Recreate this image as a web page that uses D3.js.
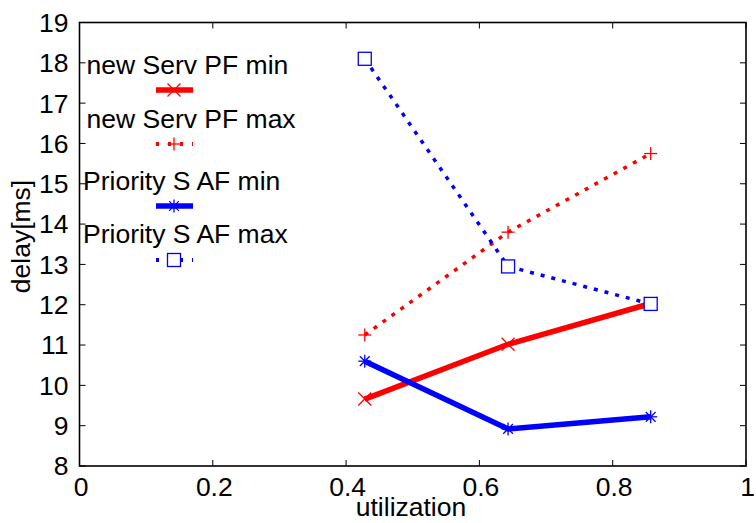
<!DOCTYPE html>
<html>
<head>
<meta charset="utf-8">
<title>delay vs utilization</title>
<script src="https://d3js.org/d3.v7.min.js"></script>
<style>
  body { margin: 0; background: #fff; }
  text { font-family: "Liberation Sans", Arial, sans-serif; fill: #000; }
</style>
</head>
<body>
<div id="chart"></div>
<script>
// data
const utilization = [0.428, 0.643, 0.857];
const pfMin = [9.66, 11.02, 12.03];
const pfMax = [11.25, 13.80, 15.75];
const afMin = [10.60, 8.92, 9.22];
const afMax = [18.10, 12.95, 12.02];
const seriesNames = ["new Serv PF min", "new Serv PF max", "Priority S AF min", "Priority S AF max"];
const xTicks = [0, 0.2, 0.4, 0.6, 0.8, 1];
const yTicks = [8, 9, 10, 11, 12, 13, 14, 15, 16, 17, 18, 19];

const W = 756, H = 523;
const plotL = 79.5, plotR = 746, plotT = 22.5, plotB = 466;
const fs = 26.5;

const svg = d3.select("#chart").append("svg")
    .attr("width", W).attr("height", H);

const x = d3.scaleLinear().domain([0, 1]).range([plotL, plotR]);
const y = d3.scaleLinear().domain([8, 19]).range([plotB, plotT]);

// box
svg.append("rect")
    .attr("x", plotL).attr("y", plotT)
    .attr("width", plotR - plotL).attr("height", plotB - plotT)
    .attr("fill", "none").attr("stroke", "#000").attr("stroke-width", 1.6);

const tickLen = 6;
// x ticks (bottom + top, inward)
xTicks.forEach(t => {
  svg.append("line").attr("x1", x(t)).attr("x2", x(t))
      .attr("y1", plotB).attr("y2", plotB - tickLen)
      .attr("stroke", "#000");
  svg.append("line").attr("x1", x(t)).attr("x2", x(t))
      .attr("y1", plotT).attr("y2", plotT + tickLen)
      .attr("stroke", "#000");
  svg.append("text").attr("x", x(t) + 1.5).attr("y", 496)
      .attr("text-anchor", "middle").attr("font-size", fs)
      .text(t);
});
// y ticks (left + right, inward)
yTicks.forEach(t => {
  svg.append("line").attr("x1", plotL).attr("x2", plotL + tickLen)
      .attr("y1", y(t)).attr("y2", y(t)).attr("stroke", "#000");
  svg.append("line").attr("x1", plotR).attr("x2", plotR - tickLen)
      .attr("y1", y(t)).attr("y2", y(t)).attr("stroke", "#000");
  svg.append("text").attr("x", plotL - 11).attr("y", y(t) + 9.4)
      .attr("text-anchor", "end").attr("font-size", fs)
      .text(t);
});

svg.append("text").attr("x", 411).attr("y", 516)
    .attr("text-anchor", "middle").attr("font-size", fs)
    .text("utilization");
svg.append("text")
    .attr("transform", "translate(29.5,236.5) rotate(-90)")
    .attr("text-anchor", "middle").attr("font-size", fs)
    .text("delay[ms]");

const series = [
  { name: seriesNames[0], vals: pfMin, color: "#ff0000", dash: null, width: 5.5, marker: "x" },
  { name: seriesNames[1], vals: pfMax, color: "#ff0000", dash: "4,7", width: 3.5, marker: "+" },
  { name: seriesNames[2], vals: afMin, color: "#0000ff", dash: null, width: 5.5, marker: "*" },
  { name: seriesNames[3], vals: afMax, color: "#0000ff", dash: "4,7", width: 3.5, marker: "s" }
];

function drawMarker(g, type, cx, cy, color) {
  const r = 6.5;
  const m = g.append("g").attr("stroke", color).attr("stroke-width", 1.3).attr("fill", "none");
  if (type === "x" || type === "*") {
    const d = type === "*" ? r * 0.75 : r;
    m.append("line").attr("x1", cx - d).attr("y1", cy - d).attr("x2", cx + d).attr("y2", cy + d);
    m.append("line").attr("x1", cx - d).attr("y1", cy + d).attr("x2", cx + d).attr("y2", cy - d);
  }
  if (type === "+" || type === "*") {
    m.append("line").attr("x1", cx - r).attr("y1", cy).attr("x2", cx + r).attr("y2", cy);
    m.append("line").attr("x1", cx).attr("y1", cy - r).attr("x2", cx).attr("y2", cy + r);
  }
  if (type === "s") {
    m.append("rect").attr("x", cx - r).attr("y", cy - r)
        .attr("width", 2 * r).attr("height", 2 * r).attr("fill", "#fff");
  }
}

const line = d3.line().x(d => x(d[0])).y(d => y(d[1]));

series.forEach(s => {
  const pts = utilization.map((u, i) => [u, s.vals[i]]);
  svg.append("path").datum(pts).attr("d", line)
      .attr("fill", "none").attr("stroke", s.color)
      .attr("stroke-width", s.width)
      .attr("stroke-dasharray", s.dash);
});
series.forEach(s => {
  utilization.forEach((u, i) => drawMarker(svg, s.marker, x(u), y(s.vals[i]), s.color));
});

// legend: text row, then sample row
const legendText = [[86.5, 73.5], [86.5, 127.5], [83, 189.5], [83, 243]];
const legendSample = [90, 144, 206, 260];
series.forEach((s, i) => {
  svg.append("text").attr("x", legendText[i][0]).attr("y", legendText[i][1])
      .attr("font-size", fs).text(s.name);
  svg.append("line").attr("x1", 156).attr("x2", 193)
      .attr("y1", legendSample[i]).attr("y2", legendSample[i])
      .attr("stroke", s.color).attr("stroke-width", s.dash ? 4 : s.width)
      .attr("stroke-dasharray", s.dash ? "3,9" : null);
  drawMarker(svg, s.marker, 174, legendSample[i], s.color);
});
</script>
</body>
</html>
